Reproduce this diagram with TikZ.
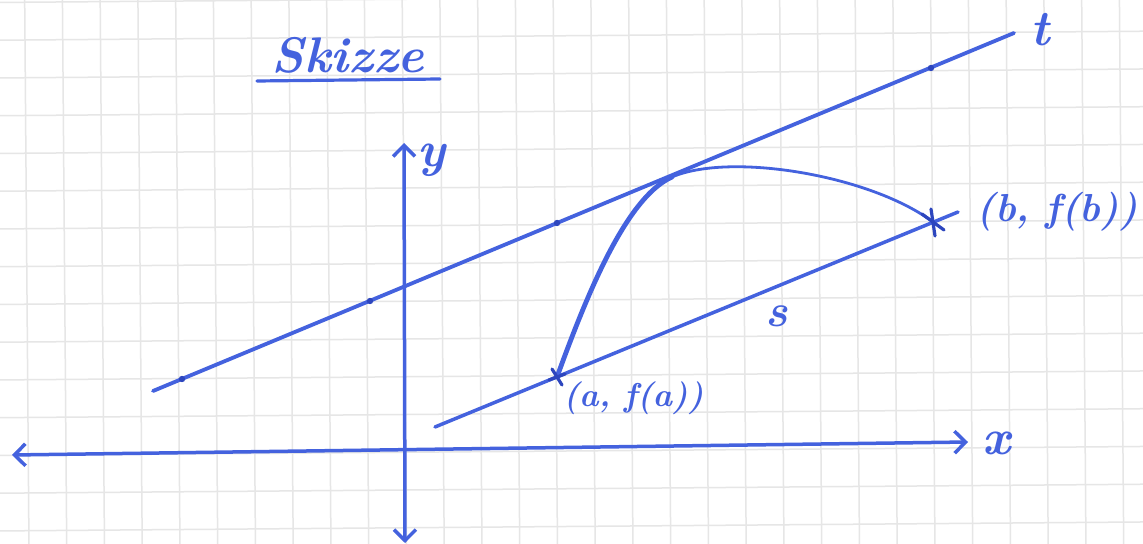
\documentclass[tikz,border=0pt]{standalone}
\usepackage{fontspec}
\usetikzlibrary{arrows.meta}
\definecolor{ink}{RGB}{68,98,222}
\definecolor{inkdark}{RGB}{45,70,190}
\definecolor{gridc}{RGB}{230,230,230}
\tikzset{
  inkline/.style={draw=ink,line width=1.75pt,line cap=round},
  gridline/.style={draw=gridc,line width=0.75pt},
  barbs/.style={{Straight Barb[length=5.5pt,width=11pt]}-{Straight Barb[length=5.5pt,width=11pt]}},
  lbl/.style={text=ink,inner sep=0pt,font=\bfseries\itshape\fontsize{#1}{#1}\selectfont},
  lbl/.default=24
}
\begin{document}
\begin{tikzpicture}[x=0.5pt,y=-0.5pt]
\fill[white] (0,0) rectangle (1143,544);
\useasboundingbox (0,0) rectangle (1143,544);
% grid paper
\begin{scope}
\clip (0,0) rectangle (1143,544);
\begin{scope}[rotate around={0.45:(25,40)}]
\foreach \i in {-2,...,31} \draw[gridline] ({25+37.75*\i},-60) -- ({25+37.75*\i},620);
\foreach \j in {-2,...,17} \draw[gridline] (-60,{2.25+37.75*\j}) -- (1220,{2.25+37.75*\j});
\end{scope}
\end{scope}
% points
\coordinate (xl) at (12,455);
\coordinate (xr) at (968,442);
\coordinate (yt) at (404,143);
\coordinate (yb) at (405,543);
\coordinate (t1) at (153,391);
\coordinate (t2) at (1014,33);
\coordinate (s1) at (435,427);
\coordinate (s2) at (958,212);
\coordinate (A) at (557,377);
\coordinate (B) at (933,222);
\coordinate (P) at (672,177);
\coordinate (ul1) at (257,81);
\coordinate (ul2) at (440,79);
\coordinate (tk1) at (182,379);
\coordinate (tk2) at (370,301);
\coordinate (tk3) at (557,223);
\coordinate (tk4) at (931,68);
% axes
\draw[inkline,barbs] (xl) -- (xr);
\draw[inkline,barbs] (yb) -- (yt);
% tangent and secant
\draw[inkline,line width=1.9pt] (t1) -- (t2);
\draw[inkline] (s1) -- (s2);
\foreach \k in {tk1,tk2,tk3,tk4} \fill[inkdark] (\k) circle (1.6pt);
% curve
\draw[ink,line width=2.4pt,line cap=round] (A) .. controls (585,300) and (625,198) .. (P);
\draw[ink,line width=1.4pt,line cap=round] (P) .. controls (730,152) and (870,175) .. (B);
% point marks
\draw[inkdark,line width=1.6pt,line cap=round] (931,209) -- (935,236);
\draw[inkdark,line width=1.6pt,line cap=round] (922,214) -- (944,230);
\draw[inkdark,line width=1.6pt,line cap=round] (552,369) -- (562,385);
\draw[inkdark,line width=1.6pt,line cap=round] (549,380) -- (565,374);
% labels
\node[lbl=25] (title) at (348,55) {Skizze};
\draw[inkline,line width=1.6pt] (ul1) -- (ul2);
\node[lbl=25] (ylab) at (432,160) {y};
\node[lbl=25] (xlab) at (997,443) {x};
\node[lbl=25] (tlab) at (1040,30) {t};
\node[lbl=23] (slab) at (777,316) {s};
\node[lbl=16.5,anchor=west] (alab) at (563,398) {(a, f(a))};
\node[lbl=19.5,anchor=east] (blab) at (1138,212) {(b, f(b))};
\end{tikzpicture}
\end{document}
